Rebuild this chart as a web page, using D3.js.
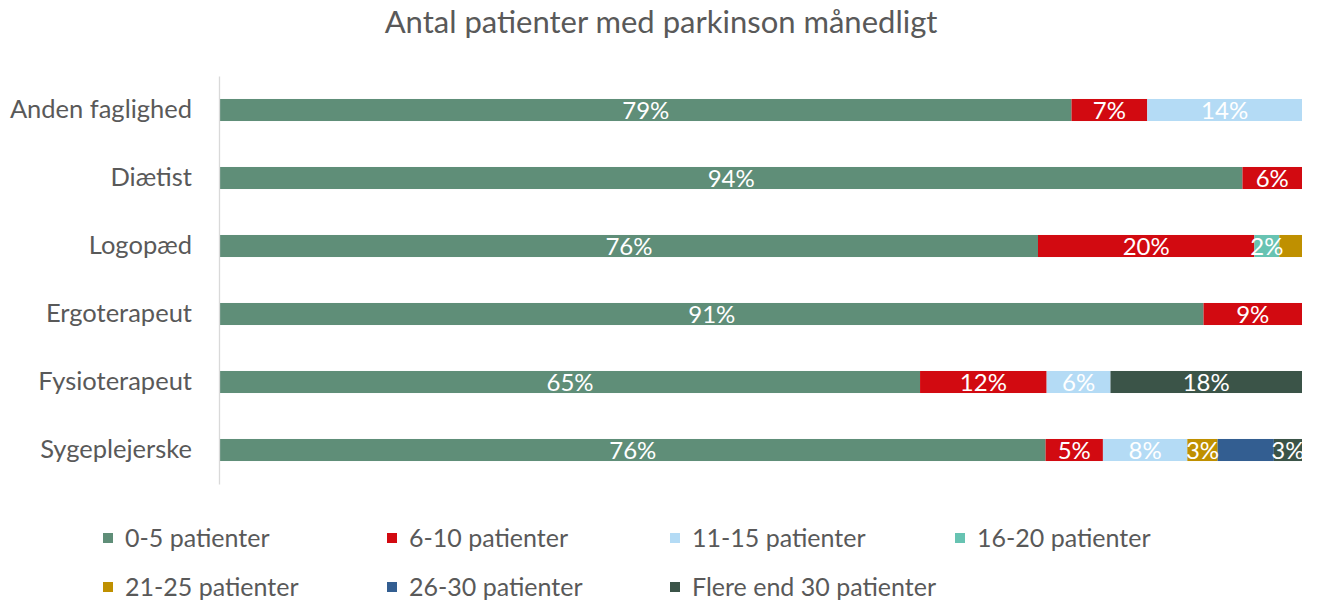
<!DOCTYPE html>
<html>
<head>
<meta charset="utf-8">
<script src="https://cdn.jsdelivr.net/npm/d3@7"></script>
<style>
  body { margin: 0; background: #fff; }
  #chart { width: 1320px; height: 603px; }
  text { font-family: Lato, "Open Sans", sans-serif; }
</style>
</head>
<body>
<div id="chart"></div>
<script>
// categories top to bottom
const categories = ['Anden faglighed', 'Diætist', 'Logopæd', 'Ergoterapeut', 'Fysioterapeut', 'Sygeplejerske'];
const seriesNames = ['0-5 patienter', '6-10 patienter', '11-15 patienter', '16-20 patienter',
                     '21-25 patienter', '26-30 patienter', 'Flere end 30 patienter'];
const seriesColors = ['#5f8e78', '#d20a11', '#b4dbf5', '#67c3b2', '#bf9000', '#335e91', '#3b5448'];

// percentages per series, one entry per category (same order as categories)
const s0_5   = [78.7, 94.5, 75.6, 90.9, 64.7, 76.3];
const s6_10  = [7.0, 5.5, 20.0, 9.1, 11.7, 5.3];
const s11_15 = [14.3, 0, 0, 0, 5.9, 7.8];
const s16_20 = [0, 0, 2.3, 0, 0, 0];
const s21_25 = [0, 0, 2.1, 0, 0, 2.8];
const s26_30 = [0, 0, 0, 0, 0, 5.2];
const s30p   = [0, 0, 0, 0, 17.7, 2.6];
// printed labels (null = no label shown in the original)
const labels = [
  ['79%', '94%', '76%', '91%', '65%', '76%'],
  ['7%', '6%', '20%', '9%', '12%', '5%'],
  ['14%', null, null, null, '6%', '8%'],
  [null, null, '2%', null, null, null],
  [null, null, null, null, null, '3%'],
  [null, null, null, null, null, null],
  [null, null, null, null, '18%', '3%']
];
const seriesValues = [s0_5, s6_10, s11_15, s16_20, s21_25, s26_30, s30p];

const width = 1320, height = 603;
const margin = {top: 76, right: 18, bottom: 119, left: 220};

const data = categories.map((c, i) => {
  let row = {cat: c};
  seriesNames.forEach((s, j) => { row[s] = seriesValues[j][i]; });
  return row;
});

let svg = d3.select('#chart').append('svg')
  .attr('width', width).attr('height', height);

svg.append('text')
  .attr('x', 661).attr('y', 33)
  .attr('text-anchor', 'middle')
  .attr('font-size', 31)
  .attr('fill', '#595959')
  .text('Antal patienter med parkinson månedligt');

let x = d3.scaleLinear().domain([0, 100]).range([margin.left, width - margin.right]);
let y = d3.scaleBand().domain(categories)
  .range([margin.top, height - margin.bottom])
  .paddingInner(0.676).paddingOuter(0.338);

let stack = d3.stack().keys(seriesNames);
let layers = stack(data);

let g = svg.append('g');
layers.forEach((layer, j) => {
  g.append('g').attr('fill', seriesColors[j])
    .selectAll('rect')
    .data(layer)
    .enter().append('rect')
      .attr('x', d => x(d[0]))
      .attr('y', d => y(d.data.cat))
      .attr('width', d => x(d[1]) - x(d[0]))
      .attr('height', y.bandwidth());
});

// value labels
layers.forEach((layer, j) => {
  g.append('g')
    .selectAll('text')
    .data(layer)
    .enter().append('text')
      .attr('x', d => (x(d[0]) + x(d[1])) / 2)
      .attr('y', d => y(d.data.cat) + y.bandwidth() / 2)
      .attr('dy', '0.36em')
      .attr('text-anchor', 'middle')
      .attr('font-size', 24)
      .attr('fill', '#fff')
      .text((d, i) => labels[j][i] || '');
});

// category axis
let yAxis = svg.append('g')
  .attr('transform', `translate(${margin.left - 1},0)`)
  .call(d3.axisLeft(y).tickSize(0).tickPadding(27));
yAxis.select('.domain').attr('stroke', '#d9d9d9').attr('stroke-width', 1.3);
yAxis.selectAll('text')
  .attr('font-size', 25.5)
  .attr('fill', '#595959')
  .attr('font-family', 'Lato, "Open Sans", sans-serif');

// legend
const legendX = [103, 387, 670, 955];
const legendY = [538, 587];
let legend = svg.append('g')
  .selectAll('g')
  .data(seriesNames)
  .enter().append('g')
    .attr('transform', (d, i) => `translate(${legendX[i % 4]},${legendY[Math.floor(i / 4)]})`);
legend.append('rect')
  .attr('x', 0).attr('y', -5)
  .attr('width', 10).attr('height', 10)
  .attr('fill', (d, i) => seriesColors[i]);
legend.append('text')
  .attr('x', 22).attr('dy', '0.36em')
  .attr('font-size', 25)
  .attr('fill', '#595959')
  .text(d => d);
</script>
</body>
</html>
